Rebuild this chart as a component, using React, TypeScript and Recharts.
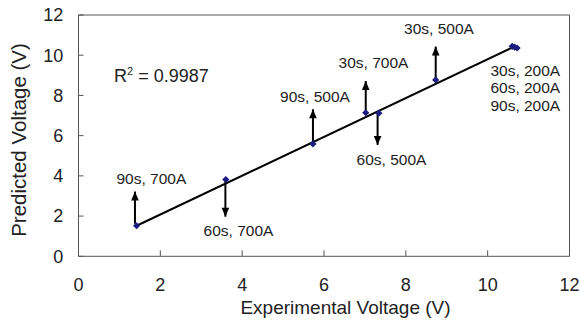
import React from 'react';
import {
  ComposedChart,
  XAxis,
  YAxis,
  Line,
  Scatter,
  ReferenceLine,
} from 'recharts';

// measured points (experimental vs predicted voltage)
const measured = [
  { x: 1.42, y: 1.52 },
  { x: 3.6, y: 3.82 },
  { x: 5.73, y: 5.59 },
  { x: 7.02, y: 7.14 },
  { x: 7.34, y: 7.12 },
  { x: 8.73, y: 8.77 },
  { x: 10.6, y: 10.44 },
  { x: 10.66, y: 10.4 },
  { x: 10.72, y: 10.36 },
];

// linear trend line end points
const trend = [
  { x: 1.42, y: 1.52 },
  { x: 10.62, y: 10.4 },
];

// arrows: x position, start and tip (in volts)
const arrows = [
  { x: 1.38, from: 1.62, to: 3.22 },
  { x: 3.59, from: 3.75, to: 1.97 },
  { x: 5.73, from: 5.65, to: 7.31 },
  { x: 7.02, from: 7.2, to: 8.72 },
  { x: 7.31, from: 7.05, to: 5.54 },
  { x: 8.73, from: 8.85, to: 10.43 },
];

// annotation text, anchored at its centre
const notes = [
  { x: 1.78, y: 3.86, text: '90s, 700A' },
  { x: 3.91, y: 1.28, text: '60s, 700A' },
  { x: 5.78, y: 7.94, text: '90s, 500A' },
  { x: 7.21, y: 9.63, text: '30s, 700A' },
  { x: 7.65, y: 4.83, text: '60s, 500A' },
  { x: 8.81, y: 11.32, text: '30s, 500A' },
  { x: 10.92, y: 9.24, text: '30s, 200A' },
  { x: 10.92, y: 8.37, text: '60s, 200A' },
  { x: 10.92, y: 7.5, text: '90s, 200A' },
];

const ticks = [0, 2, 4, 6, 8, 10, 12];

const FONT = '"Liberation Sans", Arial, Helvetica, sans-serif';
const AXIS = '#555';

const Diamond = (props: any) => {
  const { cx, cy } = props;
  const r = 3.6;
  return (
    <polygon
      points={`${cx},${cy - r} ${cx + r},${cy} ${cx},${cy + r} ${cx - r},${cy}`}
      fill="#1c1c80"
    />
  );
};

const ArrowHead = (props: any) => {
  const { cx, cy, payload } = props;
  const up = payload.to > payload.from;
  const h = 9;
  const w = 3.8;
  const base = up ? cy + h : cy - h;
  return (
    <polygon points={`${cx},${cy} ${cx + w},${base} ${cx - w},${base}`} fill="#000" />
  );
};

const Note = (props: any) => {
  const { cx, cy, payload } = props;
  return (
    <text
      x={cx}
      y={cy}
      dy="0.35em"
      textAnchor="middle"
      fontSize={15.5}
      fontFamily={FONT}
      fill="#222"
    >
      {payload.text}
    </text>
  );
};

const App = () => {
  const tips = arrows.map((a) => ({ x: a.x, y: a.to, from: a.from, to: a.to }));

  return (
    <div style={{ position: 'absolute', left: 0, top: 0 }}>
      <ComposedChart
        width={580}
        height={327}
        margin={{ top: 15, right: 10.5, bottom: 0, left: 0 }}
        style={{ fontFamily: FONT }}
      >
        <XAxis
          type="number"
          dataKey="x"
          domain={[0, 12]}
          ticks={ticks}
          allowDataOverflow
          height={70.7}
          stroke={AXIS}
          tickSize={-6}
          tickMargin={27.9}
          tick={{ fontSize: 18, fill: '#222' }}
        />
        <YAxis
          type="number"
          dataKey="y"
          domain={[0, 12]}
          ticks={ticks}
          allowDataOverflow
          width={78.5}
          stroke={AXIS}
          tickSize={-5}
          tickMargin={20.2}
          tick={{ fontSize: 18, fill: '#222' }}
        />

        {/* frame on top and right */}
        <ReferenceLine y={12} stroke={AXIS} strokeWidth={1} />
        <ReferenceLine x={12} stroke={AXIS} strokeWidth={1} />

        <Line
          data={trend}
          dataKey="y"
          stroke="#000"
          strokeWidth={2}
          dot={false}
          isAnimationActive={false}
        />

        {arrows.map((a, i) => (
          <ReferenceLine
            key={i}
            segment={[
              { x: a.x, y: a.from },
              { x: a.x, y: a.to },
            ]}
            stroke="#000"
            strokeWidth={2}
          />
        ))}

        <Scatter data={tips} dataKey="y" shape={ArrowHead} isAnimationActive={false} />
        <Scatter data={measured} dataKey="y" shape={Diamond} isAnimationActive={false} />
        <Scatter data={notes} dataKey="y" shape={Note} isAnimationActive={false} />

        <text x={114} y={82} fontSize={18} fontFamily={FONT} fill="#222">
          R<tspan fontSize={11} dy={-7}>2</tspan>
          <tspan dy={7}> = 0.9987</tspan>
        </text>

        <text
          x={345.5}
          y={314}
          textAnchor="middle"
          fontSize={19}
          fontFamily={FONT}
          fill="#222"
        >
          Experimental Voltage (V)
        </text>
        <text
          transform="translate(26,140) rotate(-90)"
          textAnchor="middle"
          fontSize={20.5}
          fontFamily={FONT}
          fill="#222"
        >
          Predicted Voltage (V)
        </text>
      </ComposedChart>
    </div>
  );
};

export default App;
